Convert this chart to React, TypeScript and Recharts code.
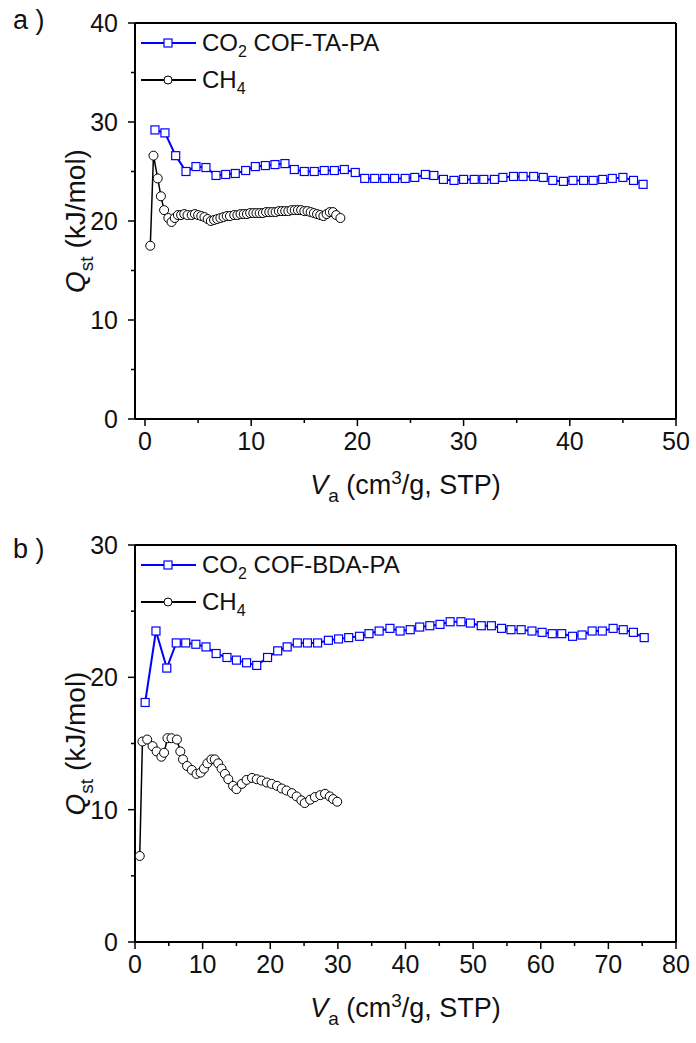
import React from 'react';
import { LineChart, Line, XAxis, YAxis, Legend, ReferenceLine } from 'recharts';

const FONT = '"Liberation Sans", Arial, sans-serif';
const BLUE = '#0000ff';

// Panel a
const co2aX = [0.94,1.88,2.89,3.86,4.80,5.74,6.69,7.60,8.50,9.48,10.39,11.33,12.24,13.18,14.06,15.0,15.94,16.88,17.83,18.77,19.80,20.69,21.63,22.57,23.5,24.5,25.4,26.4,27.2,28.1,29.1,30.0,31.0,31.9,32.9,33.7,34.7,35.6,36.6,37.5,38.4,39.4,40.3,41.3,42.2,43.1,44.0,45.0,46.0,46.9];
const co2aY = [29.2,28.9,26.6,25.0,25.5,25.4,24.6,24.7,24.8,25.1,25.5,25.6,25.7,25.8,25.2,25.0,25.0,25.1,25.1,25.2,24.9,24.3,24.3,24.3,24.3,24.3,24.4,24.7,24.6,24.2,24.1,24.2,24.2,24.2,24.2,24.4,24.5,24.5,24.5,24.4,24.1,24.0,24.1,24.1,24.1,24.2,24.3,24.4,24.1,23.7];
const ch4aX = [0.5,0.8,1.2,1.5,1.8,2.2,2.5,2.8,3.1,3.4,3.7,4.0,4.4,4.7,5.0,5.3,5.6,5.9,6.2,6.5,6.8,7.1,7.4,7.7,8.0,8.4,8.7,9.0,9.3,9.6,9.9,10.2,10.5,10.8,11.1,11.4,11.7,12.0,12.3,12.6,12.9,13.2,13.5,13.8,14.1,14.4,14.7,15.0,15.3,15.6,15.9,16.2,16.5,16.8,17.1,17.4,17.7,18.0,18.4];
const ch4aY = [17.5,26.6,24.3,22.5,21.1,20.3,19.9,20.3,20.6,20.6,20.7,20.6,20.6,20.7,20.6,20.5,20.4,20.2,20.0,20.1,20.2,20.3,20.4,20.5,20.5,20.6,20.6,20.7,20.7,20.7,20.8,20.8,20.8,20.8,20.8,20.9,20.9,20.9,20.9,21.0,21.0,21.0,21.0,21.1,21.1,21.1,21.1,21.0,21.0,20.9,20.8,20.7,20.6,20.5,20.7,20.9,20.9,20.6,20.3];

// Panel b
const co2bX = [1.5,3.1,4.7,6.1,7.5,9.0,10.5,12.0,13.6,15.0,16.5,18.0,19.6,21.1,22.5,24.0,25.5,27.0,28.6,30.1,31.6,33.2,34.6,36.1,37.7,39.2,40.7,42.1,43.6,45.1,46.6,48.2,49.6,51.2,52.7,54.2,55.6,57.1,58.7,60.2,61.7,63.1,64.7,66.1,67.6,69.1,70.7,72.2,73.7,75.3];
const co2bY = [18.1,23.5,20.7,22.6,22.6,22.5,22.3,21.8,21.5,21.3,21.1,20.9,21.5,22.0,22.3,22.6,22.6,22.6,22.8,22.9,23.0,23.1,23.3,23.5,23.7,23.5,23.6,23.8,23.9,24.0,24.2,24.2,24.1,23.9,23.9,23.7,23.6,23.6,23.5,23.4,23.3,23.3,23.1,23.2,23.5,23.5,23.7,23.6,23.4,23.0];
const ch4bX = [0.7,1.1,1.8,2.6,3.2,3.9,4.3,4.8,5.4,6.2,6.7,7.1,7.7,8.4,9.1,9.7,10.2,10.7,11.3,11.8,12.3,12.8,13.3,13.8,14.5,15.0,15.8,16.5,17.3,18.0,18.7,19.5,20.2,21.0,21.7,22.4,23.2,23.9,24.6,25.1,25.9,26.6,27.4,28.1,28.8,29.3,29.9];
const ch4bY = [6.5,15.15,15.3,14.8,14.4,14.0,14.3,15.4,15.4,15.3,14.4,13.8,13.3,13.0,12.7,12.8,13.1,13.5,13.8,13.8,13.5,13.1,12.7,12.3,11.8,11.55,11.95,12.25,12.4,12.3,12.2,12.05,11.95,11.8,11.6,11.45,11.25,11.0,10.7,10.5,10.75,10.95,11.1,11.2,11.0,10.8,10.6];

const xTicksA = [0,5,10,15,20,25,30,35,40,45,50];
const yTicksA = [0,5,10,15,20,25,30,35,40];
const xTicksB = [0,5,10,15,20,25,30,35,40,45,50,55,60,65,70,75,80];
const yTicksB = [0,5,10,15,20,25,30];

const zip = (xs: number[], ys: number[]) => xs.map((x, i) => ({ x, y: ys[i] }));

const SquareDot = (props: any) => {
  const { cx, cy, index } = props;
  if (cx == null || cy == null) return <g key={`s${index}`} />;
  return <rect key={`s${index}`} x={cx - 4} y={cy - 4} width={8} height={8} fill="#fff" stroke={BLUE} strokeWidth={1.2} />;
};
const CircleDot = (props: any) => {
  const { cx, cy, index } = props;
  if (cx == null || cy == null) return <g key={`c${index}`} />;
  return <circle key={`c${index}`} cx={cx} cy={cy} r={4.5} fill="#fff" stroke="#000" strokeWidth={1} />;
};

const leftTick = (props: any) => {
  const { x, y, payload } = props;
  const v = payload.value;
  const major = v % 10 === 0;
  return (
    <g>
      <line x1={x} y1={y} x2={x - (major ? 7 : 4)} y2={y} stroke="#000" strokeWidth={1.5} />
      {major && (
        <text x={x - 17} y={y} dy="0.36em" textAnchor="end" fontSize={25} fontFamily={FONT} fill="#111">{v}</text>
      )}
    </g>
  );
};
const bottomTick = (props: any) => {
  const { x, y, payload } = props;
  const v = payload.value;
  const major = v % 10 === 0;
  return (
    <g>
      <line x1={x} y1={y} x2={x} y2={y + (major ? 7 : 4)} stroke="#000" strokeWidth={1.5} />
      {major && (
        <text x={x} y={y + 13} dy="0.72em" textAnchor="middle" fontSize={25} fontFamily={FONT} fill="#111">{v}</text>
      )}
    </g>
  );
};

const XTitle = (props: any) => {
  const vb = props.viewBox || {};
  const cx = vb.x + vb.width / 2;
  const by = vb.y + 75;
  return (
    <text x={cx} y={by} textAnchor="middle" fontSize={27} fontFamily={FONT} fill="#111">
      <tspan fontStyle="italic">V</tspan>
      <tspan fontSize={19} dy={8}>a</tspan>
      <tspan dy={-8}> (cm</tspan>
      <tspan fontSize={19} dy={-10}>3</tspan>
      <tspan dy={10}>/g, STP)</tspan>
    </text>
  );
};

const YTitle = (plotTop: number, plotBottom: number) => (props: any) => {
  const cy = (plotTop + plotBottom) / 2;
  const bx = 85;
  return (
    <text x={bx} y={cy} transform={`rotate(-90 ${bx} ${cy})`} textAnchor="middle" fontSize={28} fontFamily={FONT} fill="#111">
      <tspan fontStyle="italic">Q</tspan>
      <tspan fontSize={19} dy={8}>st</tspan>
      <tspan dy={-8}> (kJ/mol)</tspan>
    </text>
  );
};

const LegendBox = (name: string) => () => (
  <svg width={460} height={60} style={{ display: 'block', overflow: 'visible' }}>
    <line x1={3} y1={13} x2={58} y2={13} stroke={BLUE} strokeWidth={2} />
    <rect x={26} y={9} width={8} height={8} fill="#fff" stroke={BLUE} strokeWidth={1.2} />
    <text x={64} y={21} fontSize={24} fontFamily={FONT} fill="#111">
      CO<tspan fontSize={16} dy={6}>2</tspan><tspan dy={-6}> {name}</tspan>
    </text>
    <line x1={3} y1={50} x2={58} y2={50} stroke="#000" strokeWidth={1.8} />
    <circle cx={30} cy={50} r={4} fill="#fff" stroke="#000" strokeWidth={1} />
    <text x={64} y={58} fontSize={24} fontFamily={FONT} fill="#111">
      CH<tspan fontSize={16} dy={6}>4</tspan>
    </text>
  </svg>
);

function Panel(props: {
  height: number; top: number; xDomain: [number, number]; yDomain: [number, number];
  xTicks: number[]; yTicks: number[]; co2: { x: number; y: number }[]; ch4: { x: number; y: number }[];
  name: string; plotTop: number;
}) {
  const { height, top, xDomain, yDomain, xTicks, yTicks, co2, ch4, name, plotTop } = props;
  const plotBottom = height - 101;
  return (
    <LineChart width={696} height={height} margin={{ top, right: 20, left: 0, bottom: 0 }}>
      <XAxis type="number" dataKey="x" domain={xDomain} ticks={xTicks} interval={0} allowDataOverflow
        height={101} tickSize={0} tickMargin={0} tick={bottomTick} axisLine={{ stroke: '#000', strokeWidth: 2 }}
        label={{ content: XTitle }} />
      <YAxis type="number" dataKey="y" domain={yDomain} ticks={yTicks} interval={0} allowDataOverflow
        width={135} tickSize={0} tickMargin={0} tick={leftTick} axisLine={{ stroke: '#000', strokeWidth: 2 }}
        label={{ content: YTitle(plotTop, plotBottom) }} />
      <ReferenceLine y={yDomain[1]} stroke="#000" strokeWidth={2} />
      <ReferenceLine x={xDomain[1]} stroke="#000" strokeWidth={2} />
      <Legend layout="vertical" align="center" verticalAlign="middle"
        wrapperStyle={{ top: plotTop + 7, left: 138, width: 460, height: 60 }}
        content={LegendBox(name)} />
      <Line data={co2} dataKey="y" name={`CO2 ${name}`} stroke={BLUE} strokeWidth={2}
        dot={SquareDot} activeDot={false} isAnimationActive={false} type="linear" />
      <Line data={ch4} dataKey="y" name="CH4" stroke="#000" strokeWidth={1.5}
        dot={CircleDot} activeDot={false} isAnimationActive={false} type="linear" />
    </LineChart>
  );
}

export default function App() {
  return (
    <div style={{ position: 'absolute', left: 0, top: 0, width: 696, height: 1043, background: '#fff' }}>
      <div style={{ position: 'absolute', left: 0, top: 0 }}>
        <Panel height={520} top={23} plotTop={23} xDomain={[-0.94, 50]} yDomain={[0, 40]}
          xTicks={xTicksA} yTicks={yTicksA} co2={zip(co2aX, co2aY)} ch4={zip(ch4aX, ch4aY)} name="COF-TA-PA" />
      </div>
      <div style={{ position: 'absolute', left: 0, top: 520 }}>
        <Panel height={523} top={25} plotTop={25} xDomain={[0, 80]} yDomain={[0, 30]}
          xTicks={xTicksB} yTicks={yTicksB} co2={zip(co2bX, co2bY)} ch4={zip(ch4bX, ch4bY)} name="COF-BDA-PA" />
      </div>
      <svg width={696} height={1043} style={{ position: 'absolute', left: 0, top: 0, pointerEvents: 'none' }}>
        <text x={13} y={29} fontSize={27} fontFamily={FONT} fill="#111">a )</text>
        <text x={13} y={558} fontSize={27} fontFamily={FONT} fill="#111">b )</text>
      </svg>
    </div>
  );
}
